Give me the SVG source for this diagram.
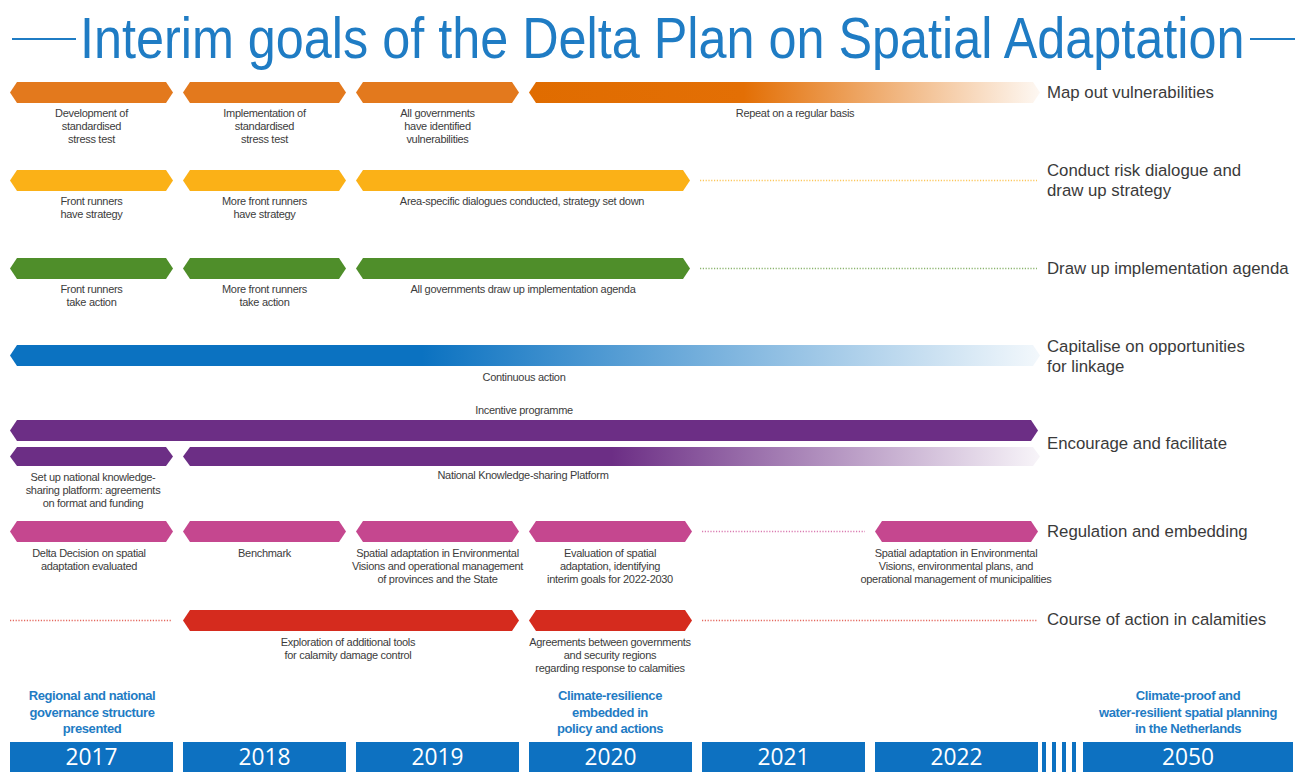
<svg xmlns="http://www.w3.org/2000/svg" width="1309" height="772" viewBox="0 0 1309 772">
<defs>
<style>
.lbl{font-family:"Liberation Sans",Arial,sans-serif;font-size:11px;fill:#3c3c3c;text-anchor:middle;letter-spacing:-0.3px}
.row{font-family:"Liberation Sans",Arial,sans-serif;font-size:16.8px;fill:#3a3a3a}
.ms{font-family:"Liberation Sans",Arial,sans-serif;font-size:13px;font-weight:bold;fill:#1f7cc4;text-anchor:middle;letter-spacing:-0.4px}
.yr{font-family:"Open Sans","Liberation Sans",sans-serif;font-size:23px;fill:#fff;text-anchor:middle}
.dot{fill:none;stroke-width:1.6;stroke-dasharray:1.2 1.6}
.or{fill:#e3791d}.ye{fill:#fbb117}.gr{fill:#4f8e2a}.pu{fill:#6c2e85}.ma{fill:#c5478f}.re{fill:#d52b1e}
</style>
<linearGradient id="gOrange" gradientUnits="userSpaceOnUse" x1="529" y1="0" x2="1040" y2="0">
<stop offset="0" stop-color="#e06c00"/><stop offset="0.42" stop-color="#e36f05"/><stop offset="1" stop-color="#e36f05" stop-opacity="0.05"/>
</linearGradient>
<linearGradient id="gBlue" gradientUnits="userSpaceOnUse" x1="10" y1="0" x2="1040" y2="0">
<stop offset="0" stop-color="#0b72c1"/><stop offset="0.4" stop-color="#0b72c1"/><stop offset="1" stop-color="#0b72c1" stop-opacity="0.05"/>
</linearGradient>
<linearGradient id="gPurple" gradientUnits="userSpaceOnUse" x1="183" y1="0" x2="1040" y2="0">
<stop offset="0" stop-color="#6c2e85"/><stop offset="0.5" stop-color="#6c2e85"/><stop offset="1" stop-color="#6c2e85" stop-opacity="0.05"/>
</linearGradient>
</defs>
<rect width="1309" height="772" fill="#fff"/>

<!-- title: condensed by a horizontal scale -->
<g id="title">
<line x1="12" y1="39" x2="76" y2="39" stroke="#1f7cc4" stroke-width="2"/>
<line x1="1250" y1="39" x2="1295" y2="39" stroke="#1f7cc4" stroke-width="2"/>
<text transform="translate(80 58) scale(0.82 1)" x="0" y="0" font-family="Liberation Sans, Arial, sans-serif" font-size="58" fill="#1f7cc4" textLength="1420" lengthAdjust="spacingAndGlyphs">Interim goals of the Delta Plan on Spatial Adaptation</text>
</g>

<!-- row 1: map out vulnerabilities -->
<g id="vuln-2017"><path class="or" d="M10 92.5L17 82H166L173 92.5L166 103H17Z"/><text class="lbl" x="91.5" y="117">Development of<tspan x="91.5" dy="13">standardised</tspan><tspan x="91.5" dy="13">stress test</tspan></text></g>
<g id="vuln-2018"><path class="or" d="M183 92.5L190 82H339L346 92.5L339 103H190Z"/><text class="lbl" x="264.5" y="117">Implementation of<tspan x="264.5" dy="13">standardised</tspan><tspan x="264.5" dy="13">stress test</tspan></text></g>
<g id="vuln-2019"><path class="or" d="M356 92.5L363 82H512L519 92.5L512 103H363Z"/><text class="lbl" x="437.5" y="117">All governments<tspan x="437.5" dy="13">have identified</tspan><tspan x="437.5" dy="13">vulnerabilities</tspan></text></g>
<g id="vuln-repeat"><path fill="url(#gOrange)" d="M529 92.5L536 82H1033L1040 92.5L1033 103H536Z"/><text class="lbl" x="795" y="117">Repeat on a regular basis</text></g>
<g id="goal-vuln"><text class="row" x="1047" y="98">Map out vulnerabilities</text></g>

<!-- row 2: risk dialogue -->
<g id="dialogue-2017"><path class="ye" d="M10 180.5L17 170H166L173 180.5L166 191H17Z"/><text class="lbl" x="91.5" y="205">Front runners<tspan x="91.5" dy="13">have strategy</tspan></text></g>
<g id="dialogue-2018"><path class="ye" d="M183 180.5L190 170H339L346 180.5L339 191H190Z"/><text class="lbl" x="264.5" y="205">More front runners<tspan x="264.5" dy="13">have strategy</tspan></text></g>
<g id="dialogue-2019"><path class="ye" d="M356 180.5L363 170H683L690 180.5L683 191H363Z"/><text class="lbl" x="522" y="205">Area-specific dialogues conducted, strategy set down</text></g>
<g id="goal-dialogue"><text class="row" x="1047" y="176">Conduct risk dialogue and<tspan x="1047" dy="19.5">draw up strategy</tspan></text></g>

<!-- row 3: implementation agenda -->
<g id="agenda-2017"><path class="gr" d="M10 268.5L17 258H166L173 268.5L166 279H17Z"/><text class="lbl" x="91.5" y="293">Front runners<tspan x="91.5" dy="13">take action</tspan></text></g>
<g id="agenda-2018"><path class="gr" d="M183 268.5L190 258H339L346 268.5L339 279H190Z"/><text class="lbl" x="264.5" y="293">More front runners<tspan x="264.5" dy="13">take action</tspan></text></g>
<g id="agenda-2019"><path class="gr" d="M356 268.5L363 258H683L690 268.5L683 279H363Z"/><text class="lbl" x="523" y="293">All governments draw up implementation agenda</text></g>
<g id="goal-agenda"><text class="row" x="1047" y="274">Draw up implementation agenda</text></g>

<!-- row 4: linkage -->
<g id="linkage"><path fill="url(#gBlue)" d="M10 355.5L17 345H1033L1040 355.5L1033 366H17Z"/><text class="lbl" x="524" y="381">Continuous action</text></g>
<g id="goal-linkage"><text class="row" x="1047" y="352">Capitalise on opportunities<tspan x="1047" dy="19.5">for linkage</tspan></text></g>

<!-- row 5: encourage and facilitate -->
<g id="incentive"><text class="lbl" x="524" y="414">Incentive programme</text><path class="pu" d="M10 430.5L17 420H1031L1038 430.5L1031 441H17Z"/></g>
<g id="platform-setup"><path class="pu" d="M10 456.5L17 447H166L173 456.5L166 466H17Z"/><text class="lbl" x="93" y="481">Set up national knowledge-<tspan x="93" dy="13">sharing platform: agreements</tspan><tspan x="93" dy="13">on format and funding</tspan></text></g>
<g id="platform"><path fill="url(#gPurple)" d="M183 456.5L190 447H1033L1040 456.5L1033 466H190Z"/><text class="lbl" x="523" y="479">National Knowledge-sharing Platform</text></g>
<g id="goal-encourage"><text class="row" x="1047" y="449">Encourage and facilitate</text></g>

<!-- row 6: regulation and embedding -->
<g id="reg-2017"><path class="ma" d="M10 531.5L17 521H166L173 531.5L166 542H17Z"/><text class="lbl" x="89" y="557">Delta Decision on spatial<tspan x="89" dy="13">adaptation evaluated</tspan></text></g>
<g id="reg-2018"><path class="ma" d="M183 531.5L190 521H339L346 531.5L339 542H190Z"/><text class="lbl" x="264.5" y="557">Benchmark</text></g>
<g id="reg-2019"><path class="ma" d="M356 531.5L363 521H512L519 531.5L512 542H363Z"/><text class="lbl" x="437.5" y="557">Spatial adaptation in Environmental<tspan x="437.5" dy="13">Visions and operational management</tspan><tspan x="437.5" dy="13">of provinces and the State</tspan></text></g>
<g id="reg-2020"><path class="ma" d="M529 531.5L536 521H685L692 531.5L685 542H536Z"/><text class="lbl" x="610" y="557">Evaluation of spatial<tspan x="610" dy="13">adaptation, identifying</tspan><tspan x="610" dy="13">interim goals for 2022-2030</tspan></text></g>
<g id="reg-2022"><path class="ma" d="M875 531.5L882 521H1031L1038 531.5L1031 542H882Z"/><text class="lbl" x="956" y="557">Spatial adaptation in Environmental<tspan x="956" dy="13">Visions, environmental plans, and</tspan><tspan x="956" dy="13">operational management of municipalities</tspan></text></g>
<g id="goal-regulation"><text class="row" x="1047" y="537">Regulation and embedding</text></g>

<!-- row 7: calamities -->
<g id="calamity-2018"><path class="re" d="M183 620.5L190 610H512L519 620.5L512 631H190Z"/><text class="lbl" x="348" y="646">Exploration of additional tools<tspan x="348" dy="13">for calamity damage control</tspan></text></g>
<g id="calamity-2020"><path class="re" d="M529 620.5L536 610H685L692 620.5L685 631H536Z"/><text class="lbl" x="610" y="646">Agreements between governments<tspan x="610" dy="13">and security regions</tspan><tspan x="610" dy="13">regarding response to calamities</tspan></text></g>
<g id="goal-calamity"><text class="row" x="1047" y="625">Course of action in calamities</text></g>

<!-- dotted continuation lines -->
<g id="connectors">
<line class="dot" x1="700" y1="180.5" x2="1037" y2="180.5" stroke="#fcc65a"/>
<line class="dot" x1="700" y1="268.5" x2="1037" y2="268.5" stroke="#8ab46e"/>
<line class="dot" x1="702" y1="531.5" x2="865" y2="531.5" stroke="#d97bb1"/>
<line class="dot" x1="10" y1="620.5" x2="172" y2="620.5" stroke="#e3675d"/>
<line class="dot" x1="702" y1="620.5" x2="1037" y2="620.5" stroke="#e3675d"/>
</g>

<!-- milestones -->
<g id="milestone-2017"><text class="ms" x="92" y="700">Regional and national<tspan x="92" dy="16.5">governance structure</tspan><tspan x="92" dy="16.5">presented</tspan></text></g>
<g id="milestone-2020"><text class="ms" x="610" y="700">Climate-resilience<tspan x="610" dy="16.5">embedded in</tspan><tspan x="610" dy="16.5">policy and actions</tspan></text></g>
<g id="milestone-2050"><text class="ms" x="1188" y="700">Climate-proof and<tspan x="1188" dy="16.5">water-resilient spatial planning</tspan><tspan x="1188" dy="16.5">in the Netherlands</tspan></text></g>

<!-- year axis -->
<g id="years" fill="#0d71c1">
<rect x="10" y="742" width="163" height="30"/>
<rect x="183" y="742" width="163" height="30"/>
<rect x="356" y="742" width="163" height="30"/>
<rect x="529" y="742" width="163" height="30"/>
<rect x="702" y="742" width="163" height="30"/>
<rect x="875" y="742" width="163" height="30"/>
<rect x="1042" y="742" width="4" height="30"/>
<rect x="1052" y="742" width="4" height="30"/>
<rect x="1062" y="742" width="4" height="30"/>
<rect x="1072" y="742" width="4" height="30"/>
<rect x="1083" y="742" width="210" height="30"/>
<text class="yr" x="91.5" y="765" textLength="52" lengthAdjust="spacingAndGlyphs">2017</text>
<text class="yr" x="264.5" y="765" textLength="52" lengthAdjust="spacingAndGlyphs">2018</text>
<text class="yr" x="437.5" y="765" textLength="52" lengthAdjust="spacingAndGlyphs">2019</text>
<text class="yr" x="610.5" y="765" textLength="52" lengthAdjust="spacingAndGlyphs">2020</text>
<text class="yr" x="783.5" y="765" textLength="52" lengthAdjust="spacingAndGlyphs">2021</text>
<text class="yr" x="956.5" y="765" textLength="52" lengthAdjust="spacingAndGlyphs">2022</text>
<text class="yr" x="1188" y="765" textLength="52" lengthAdjust="spacingAndGlyphs">2050</text>
</g>
</svg>
